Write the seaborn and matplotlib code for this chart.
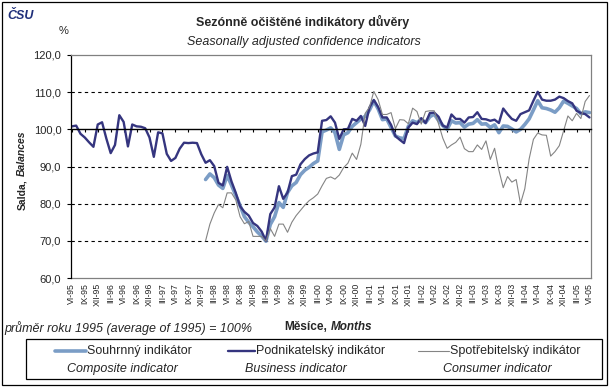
import numpy as np
import pandas as pd
import matplotlib.pyplot as plt
import seaborn as sns
from matplotlib.lines import Line2D
from matplotlib.patches import Rectangle

# quarterly tick labels, VI-95 ... VI-05 (one point per month)
tick_labels = ['VI-95', 'IX-95', 'XII-95', 'III-96', 'VI-96', 'IX-96', 'XII-96', 'III-97',
               'VI-97', 'IX-97', 'XII-97', 'III-98', 'VI-98', 'IX-98', 'XII-98', 'III-99',
               'VI-99', 'IX-99', 'XII-99', 'III-00', 'VI-00', 'IX-00', 'XII-00', 'III-01',
               'VI-01', 'IX-01', 'XII-01', 'III-02', 'VI-02', 'IX-02', 'XII-02', 'III-03',
               'VI-03', 'IX-03', 'XII-03', 'III-04', 'VI-04', 'IX-04', 'XII-04', 'III-05',
               'VI-05']

# Podnikatelsky indikator (business), VI-95 .. VI-05
business = [100.8, 101.0, 98.8, 97.8, 96.5, 95.3, 101.3, 101.9, 97.5, 93.6,
            95.8, 103.8, 102.0, 95.4, 101.3, 100.8, 100.7, 100.3, 97.8, 92.6,
            99.2, 98.9, 93.4, 91.5, 92.3, 94.8, 96.4, 96.3, 96.4, 96.3,
            93.3, 91.0, 91.7, 90.1, 85.6, 84.9, 89.9, 86.0, 82.9, 79.3,
            77.8, 76.8, 74.8, 74.0, 72.5, 70.0, 77.2, 79.0, 84.7, 81.3,
            83.0, 87.4, 87.8, 90.6, 92.0, 93.0, 93.5, 93.8, 102.3, 102.5,
            103.5, 101.8, 97.4, 100.0, 100.1, 102.8, 102.3, 103.6, 100.9, 105.9,
            107.9, 106.0, 103.2, 103.2, 101.2, 98.2, 97.2, 96.3, 100.5, 101.8,
            101.4, 103.0, 101.7, 104.4, 104.5, 103.4, 101.0, 100.5, 104.0, 102.8,
            102.8, 101.8, 103.2, 103.3, 104.6, 102.8, 102.7, 102.3, 102.6, 101.7,
            105.6, 104.1, 102.8, 102.3, 104.1, 104.6, 105.1, 107.7, 110.1, 108.0,
            107.7, 107.7, 108.0, 108.8, 108.4, 107.6, 107.0, 105.0, 104.4, 104.1,
            103.2]

# Souhrnny indikator (composite) and Spotrebitelsky (consumer) start I-98
late_start = 31
composite = [86.5, 88.0, 87.0, 85.0, 84.1, 87.6, 85.0, 82.2, 79.5,
             76.5, 75.0, 73.8, 72.4, 71.3, 69.9, 74.4, 76.5, 80.3, 79.0,
             83.0, 84.8, 85.7, 87.8, 89.0, 89.8, 90.8, 91.5, 99.3, 99.8,
             100.4, 99.1, 94.6, 98.5, 99.1, 100.8, 101.8, 102.8, 103.5, 105.2,
             107.6, 105.5, 102.6, 102.8, 100.5, 98.2, 97.7, 97.5, 100.8, 102.3,
             101.8, 102.7, 101.8, 103.4, 104.1, 102.4, 101.0, 100.0, 102.3, 101.7,
             101.8, 100.6, 101.4, 101.6, 102.6, 101.4, 101.5, 100.5, 101.2, 99.1,
             100.9, 100.8, 100.1, 99.3, 100.0, 101.3, 102.8, 105.2, 107.7, 105.8,
             105.6, 105.2, 104.6, 105.8, 107.6, 107.0, 106.3, 105.6, 104.2, 104.7,
             104.5]
consumer = [70.0, 74.5, 77.5, 79.8, 78.9, 82.9, 82.9, 81.0, 76.5,
            74.6, 75.2, 71.2, 71.2, 71.2, 69.9, 73.3, 71.2, 74.5, 74.5,
            72.3, 75.0, 76.8, 78.2, 79.6, 80.8, 81.6, 82.6, 84.8, 86.8,
            87.2, 86.6, 87.7, 89.7, 90.9, 93.6, 91.9, 96.0, 104.3, 106.0,
            110.2, 108.0, 104.0, 104.0, 104.5, 100.2, 102.6, 102.5, 101.5, 105.7,
            104.8, 101.4, 104.8, 105.0, 105.0, 101.5, 97.6, 94.9, 95.8, 96.5,
            97.9, 94.8, 94.0, 94.0, 95.8, 94.6, 96.9, 91.9, 94.9, 89.0,
            84.3, 87.3, 85.8, 86.5, 80.0, 84.0, 92.0, 97.3, 99.0, 98.5,
            98.4, 92.8, 94.0, 95.6, 99.6, 103.6, 102.3, 104.3, 102.9, 107.5,
            109.1]

grid_levels = [70, 80, 90, 110]

c_comp = '#7b9dc6'
c_bus = '#35357f'
c_cons = '#848484'

df_bus = pd.DataFrame({'m': np.arange(len(business)), 'val': business})
df_comp = pd.DataFrame({'m': np.arange(late_start, late_start + len(composite)), 'val': composite})
df_cons = pd.DataFrame({'m': np.arange(late_start, late_start + len(consumer)), 'val': consumer})

sns.set_theme(style='white')
plt.rcParams['font.family'] = ['Liberation Sans', 'DejaVu Sans']

fig = plt.figure(figsize=(6.09, 3.90), dpi=100)
ax = fig.add_axes([71 / 609, 1 - 278 / 390, 520 / 609, 223 / 390])

for lvl in grid_levels:
    ax.axhline(lvl, color='black', lw=0.8, ls=(0, (3, 3)), zorder=1)

sns.lineplot(data=df_comp, x='m', y='val', color=c_comp, linewidth=2.6, ax=ax)
sns.lineplot(data=df_bus, x='m', y='val', color=c_bus, linewidth=1.7, ax=ax)
sns.lineplot(data=df_cons, x='m', y='val', color=c_cons, linewidth=0.8, ax=ax)

ax.set_xlim(-0.2, 120.35)
ax.set_ylim(60, 120)
ax.set_xlabel('')
ax.set_ylabel('')

# y axis
yt = list(range(60, 121, 10))
ax.set_yticks(yt, [f'{v:.1f}'.replace('.', ',') for v in yt])
ax.tick_params(axis='y', direction='out', length=3, width=0.8, color='black',
               labelsize=8, pad=4, left=True)
ax.spines['left'].set_color('black')
ax.spines['left'].set_linewidth(0.9)
for s in ['top', 'right']:
    ax.spines[s].set_color('#808080')
    ax.spines[s].set_linewidth(0.9)

# x axis crosses at 100, labels stay low
ax.spines['bottom'].set_position(('data', 100))
ax.spines['bottom'].set_color('black')
ax.spines['bottom'].set_linewidth(1.0)
ax.set_xticks(range(0, 121, 3))
ax.tick_params(axis='x', direction='out', length=2.5, width=0.8, color='black',
               labelbottom=False, bottom=True)

sec = ax.secondary_xaxis(0.0)
sec.set_xticks(range(0, 121, 3), labels=tick_labels, rotation=90, fontsize=6.3)
sec.tick_params(length=0, pad=3.5)
sec.spines['bottom'].set_color('#808080')
sec.spines['bottom'].set_linewidth(0.9)

# titles
fig.text(0.497, 0.944, 'Sezónně očištěné indikátory důvěry', ha='center', va='center',
         fontsize=9, fontweight='bold')
fig.text(0.499, 0.892, 'Seasonally adjusted confidence indicators', ha='center', va='center',
         fontsize=9, style='italic')
fig.text(0.105, 0.921, '%', ha='center', va='center', fontsize=8)
fig.text(0.012, 0.975, 'ČSU', ha='left', va='top', fontsize=9, fontweight='bold',
         style='italic', color='#1f2f7a')

# axis titles
t1 = fig.text(22 / 609, (390 - 210) / 390, 'Salda,', rotation=90, ha='center', va='bottom',
              fontsize=7.5, fontweight='bold')
ax.annotate('Balances', xy=(0.5, 1), xycoords=t1, xytext=(0, 2.5), textcoords='offset points',
            rotation=90, ha='center', va='bottom', fontsize=7.5, fontweight='bold',
            style='italic', annotation_clip=False)
t2 = fig.text(284 / 609, (390 - 327) / 390, 'Měsíce,', ha='left', va='center',
              fontsize=8.5, fontweight='bold')
ax.annotate('Months', xy=(1, 0), xycoords=t2, xytext=(2.5, 0), textcoords='offset points',
            ha='left', va='bottom', fontsize=8.5, fontweight='bold', style='italic',
            annotation_clip=False)

fig.text(4 / 609, (390 - 328) / 390, 'průměr roku 1995 (average of 1995) = 100%',
         ha='left', va='center', fontsize=9, style='italic')

# legend box drawn by hand (two text rows per entry)
fig.add_artist(Rectangle((26 / 609, 11 / 390), 576 / 609, 40 / 390, transform=fig.transFigure,
                         fill=False, ec='black', lw=0.9))
fig.add_artist(Rectangle((1.5 / 609, 5 / 390), 605 / 609, 383.5 / 390, transform=fig.transFigure,
                         fill=False, ec='black', lw=0.9))

row1 = (390 - 351) / 390
row2 = (390 - 369) / 390
entries = [(55, 86, c_comp, 2.6, 'Souhrnný indikátor', 122, 'Composite indicator'),
           (228, 255, c_bus, 1.7, 'Podnikatelský indikátor', 296, 'Business indicator'),
           (418, 449, c_cons, 0.8, 'Spotřebitelský indikátor', 497, 'Consumer indicator')]
for x0, x1, col, lw, cz, xc, en in entries:
    fig.add_artist(Line2D([x0 / 609, x1 / 609], [row1, row1], transform=fig.transFigure,
                          color=col, lw=lw))
    fig.text((x1 + 1) / 609, row1, cz, ha='left', va='center', fontsize=9)
    fig.text(xc / 609, row2, en, ha='center', va='center', fontsize=9, style='italic')

plt.savefig('out.png', dpi=100)
